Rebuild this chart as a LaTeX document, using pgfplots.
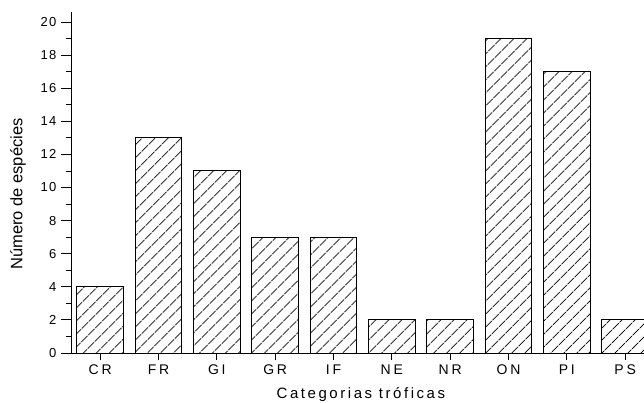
\documentclass[border=0pt]{standalone}
\usepackage{fontspec}
\setmainfont{Liberation Sans}
\newfontfamily\ytickfont[LetterSpace=10]{Liberation Sans}
\newfontfamily\xtickfont[LetterSpace=20]{Liberation Sans}
\newfontfamily\xlabfont[LetterSpace=17]{Liberation Sans}
\usepackage{pgfplots}
\pgfplotsset{compat=1.18}
\usetikzlibrary{patterns.meta}
\begin{document}
\begin{tikzpicture}
\begin{axis}[
  at={(0,0)}, anchor=south west,
  scale only axis, width=573bp, height=341bp,
  xmin=-0.5, xmax=9.323, ymin=0, ymax=20.6,
  axis x line=bottom, axis y line=left,
  axis line style={-, line width=0.8pt},
  xtick=\empty,
  extra x ticks={0,1,2,3,4,5,6,7,8,9},
  extra x tick labels={CR,FR,GI,GR,IF,NE,NR,ON,PI,PS},
  extra x tick style={major tick length=7bp},
  minor xtick={-0.5,0.5,...,9.5},
  ytick={0,2,...,20}, minor ytick={1,3,...,19},
  tick align=outside,
  major tick length=10bp, minor tick length=4.5bp,
  tick style={black, line width=0.8pt},
  /pgf/number format/assume math mode=true,
  yticklabel style={font=\ytickfont\fontsize{13bp}{15bp}\selectfont, xshift=-1bp},
  xticklabel style={font=\xtickfont\fontsize{14bp}{16bp}\selectfont, anchor=base, yshift=-14.5bp},
  ylabel={Número de espécies},
  ylabel style={font=\fontsize{16.5bp}{18bp}\selectfont, at={(axis description cs:-0.0925,0.466)}, anchor=center},
  xlabel={Categorias tróficas},
  xlabel style={font=\xlabfont\fontsize{15bp}{17bp}\selectfont, at={(axis description cs:0.506,0)}, anchor=base, yshift=-45bp},
  ybar, bar width=46.5bp,
]
\addplot[draw=black, line width=0.9pt, fill=white,
  postaction={pattern={Lines[angle=45, distance=9.5bp, line width=0.9pt]}, pattern color=black}]
  coordinates {(0,4) (1,13) (2,11) (3,7) (4,7) (5,2) (6,2) (7,19) (8,17) (9,2)};
\end{axis}
\pgfresetboundingbox
\path (-71bp,-50bp) rectangle (573bp,353bp);
\end{tikzpicture}
\end{document}
